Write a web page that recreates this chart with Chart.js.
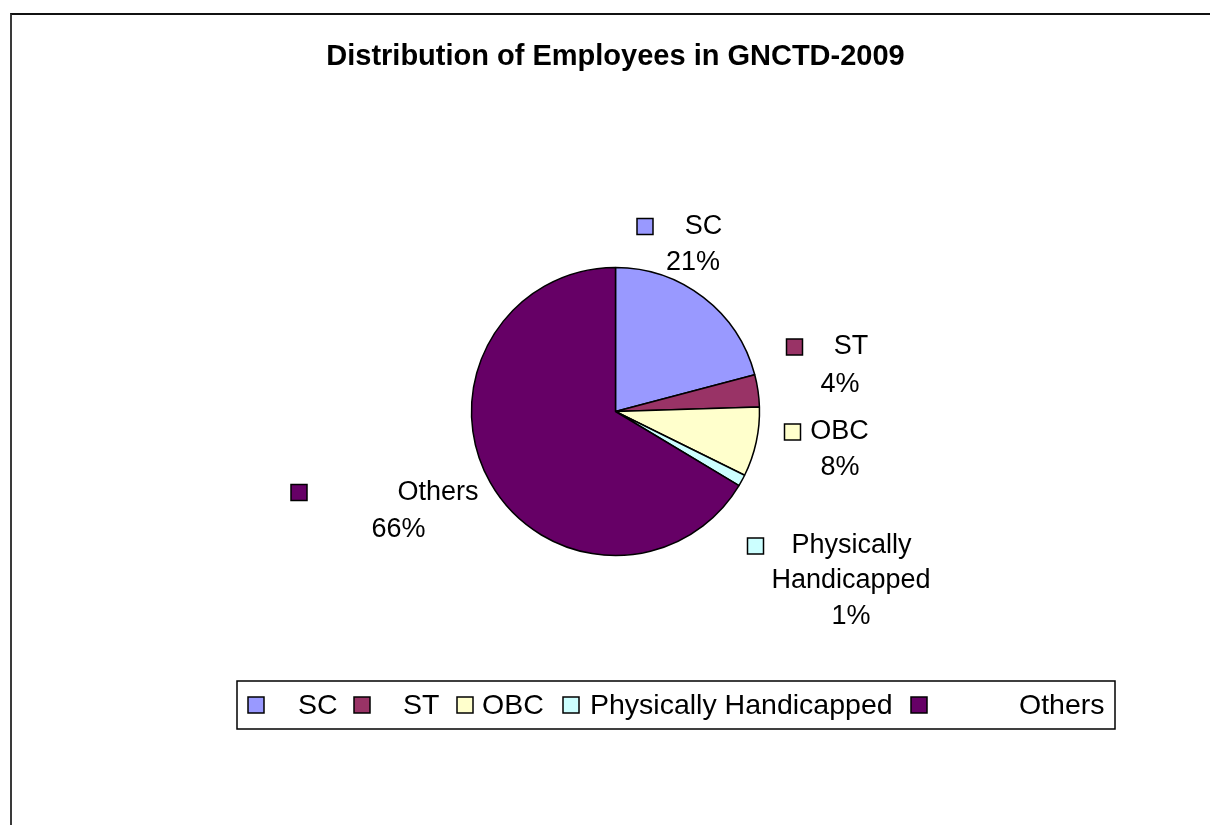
<!DOCTYPE html>
<html>
<head>
<meta charset="utf-8">
<title>Distribution of Employees in GNCTD-2009</title>
<script src="https://cdn.jsdelivr.net/npm/chart.js@4/dist/chart.umd.min.js"></script>
<style>
  html, body { margin: 0; padding: 0; background: #fff; overflow: hidden; }
  #wrap { position: relative; width: 1210px; height: 825px; }
  #frame { position: absolute; left: 10px; top: 13px; width: 1300px; height: 900px;
           border-left: 2px solid #3a3a3a; border-top: 2px solid #111; }
  #chart { position: absolute; left: 0; top: 0; }
</style>
</head>
<body>
<div id="wrap">
  <div id="frame"></div>
  <canvas id="chart" width="1210" height="825"></canvas>
</div>
<script>
// Data
const categories = ["SC", "ST", "OBC", "Physically Handicapped", "Others"];
const shares = [20.9, 3.6, 7.8, 1.3, 66.4];
const sliceColors = ["#9999FF", "#993366", "#FFFFCC", "#CCFFFF", "#660066"];

const FONT = "'Liberation Sans', Arial, Helvetica, sans-serif";

// where each data label sits, relative to the pie centre (px)
const labelLayout = [
    { key: [29.5, -185], name: [[88, -184.5]], pct: [77.5, -148.5] },
    { key: [179, -64.5], name: [[235.5, -64.5]], pct: [224.5, -27] },
    { key: [177, 20.5], name: [[224, 20.5]], pct: [224.5, 56.5] },
    { key: [140, 134.5], name: [[236, 134.5], [235.5, 169]], pct: [235.5, 205.5] },
    { key: [-316.5, 81], name: [[-177.5, 81.5]], pct: [-217, 118] }
];

// legend box + entries (absolute px)
const legendBox = { x: 237, y: 681, w: 878, h: 48 };
const legendKeyX = [248, 354, 457, 563, 911];
const legendTextX = [298, 403, 482, 590, 1019];

function drawKey(ctx, cx, cy, color) {
    ctx.fillStyle = color;
    ctx.fillRect(cx - 8, cy - 8, 16, 16);
    ctx.strokeStyle = "#000";
    ctx.lineWidth = 1.5;
    ctx.strokeRect(cx - 8, cy - 8, 16, 16);
}

const pieLabels = {
    id: "pieLabels",
    afterDatasetsDraw(chart) {
        const ctx = chart.ctx;
        const arcs = chart.getDatasetMeta(0).data;
        const vals = chart.data.datasets[0].data;
        const total = vals.reduce((a, b) => a + b, 0);
        const cx = arcs[0].x, cy = arcs[0].y;
        ctx.save();
        ctx.font = "27px " + FONT;
        ctx.textAlign = "center";
        ctx.textBaseline = "middle";
        labelLayout.forEach((l, i) => {
            drawKey(ctx, cx + l.key[0], cy + l.key[1], sliceColors[i]);
            const words = l.name.length > 1 ? categories[i].split(" ") : [categories[i]];
            ctx.fillStyle = "#000";
            l.name.forEach((p, j) => ctx.fillText(words[j], cx + p[0], cy + p[1]));
            const pct = Math.round(vals[i] / total * 100) + "%";
            ctx.fillText(pct, cx + l.pct[0], cy + l.pct[1]);
        });
        ctx.restore();
    }
};

const boxLegend = {
    id: "boxLegend",
    afterDraw(chart) {
        const ctx = chart.ctx;
        ctx.save();
        ctx.strokeStyle = "#000";
        ctx.lineWidth = 1.5;
        ctx.strokeRect(legendBox.x, legendBox.y, legendBox.w, legendBox.h);
        const cy = legendBox.y + legendBox.h / 2;
        ctx.font = "28.5px " + FONT;
        ctx.textAlign = "left";
        ctx.textBaseline = "middle";
        categories.forEach((c, i) => {
            drawKey(ctx, legendKeyX[i] + 8, cy, sliceColors[i]);
            ctx.fillStyle = "#000";
            ctx.fillText(c, legendTextX[i], cy + 1);
        });
        ctx.restore();
    }
};

new Chart(document.getElementById("chart"), {
    type: "pie",
    data: {
        labels: categories,
        datasets: [{
            data: shares,
            backgroundColor: sliceColors,
            borderColor: "#000",
            borderWidth: 1.5,
            radius: 144
        }]
    },
    options: {
        responsive: false,
        animation: false,
        devicePixelRatio: 1,
        layout: { padding: { left: 21, right: 0, top: 0, bottom: 76.8 } },
        plugins: {
            legend: { display: false },
            tooltip: { enabled: false },
            title: {
                display: true,
                text: "Distribution of Employees in GNCTD-2009",
                color: "#000",
                font: { family: FONT, size: 29, weight: "bold", lineHeight: 1.2 },
                padding: { top: 40, bottom: 0 }
            }
        }
    },
    plugins: [pieLabels, boxLegend]
});
</script>
</body>
</html>
